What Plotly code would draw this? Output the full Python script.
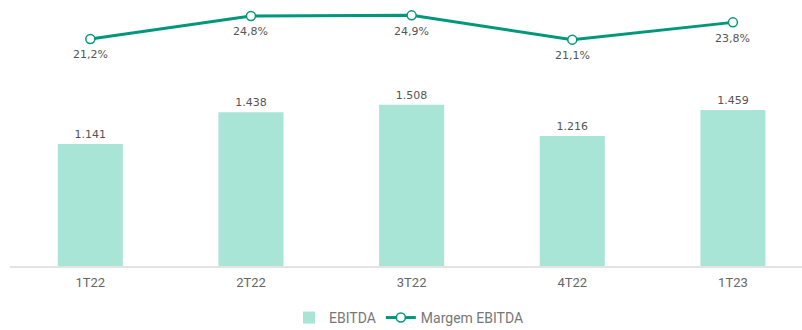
import plotly.graph_objects as go

# Quarterly EBITDA (R$ milhões) and EBITDA margin (%)
trimestres = ["1T22", "2T22", "3T22", "4T22", "1T23"]
ebitda = [1141, 1438, 1508, 1216, 1459]
margem_ebitda = [21.2, 24.8, 24.9, 21.1, 23.8]

BAR_COLOR = "#a8e5d7"
LINE_COLOR = "#00977a"
TEXT_COLOR = "#555555"
LABEL_FONT = dict(family="DejaVu Sans", size=11, color=TEXT_COLOR)

fig = go.Figure()

fig.add_trace(go.Bar(
    x=trimestres,
    y=ebitda,
    name="EBITDA",
    marker=dict(color=BAR_COLOR, line=dict(width=0)),
    width=0.405,
    texttemplate="%{y:,.0f}",
    textposition="outside",
    textfont=LABEL_FONT,
    cliponaxis=False,
    yaxis="y",
))

fig.add_trace(go.Scatter(
    x=trimestres,
    y=margem_ebitda,
    name="Margem EBITDA",
    mode="lines+markers",
    line=dict(color=LINE_COLOR, width=3),
    marker=dict(size=9, color="white", line=dict(color=LINE_COLOR, width=1.5)),
    cliponaxis=False,
    yaxis="y2",
))

# Margin labels placed just under each marker
for t, m in zip(trimestres, margem_ebitda):
    fig.add_annotation(
        x=t, y=m, xref="x", yref="y2",
        text=f"{m:.1f}%".replace(".", ","),
        showarrow=False,
        yshift=-16,
        font=LABEL_FONT,
    )

fig.update_layout(
    width=802,
    height=330,
    margin=dict(l=10, r=0, t=0, b=64),
    paper_bgcolor="white",
    plot_bgcolor="white",
    separators=",.",
    xaxis=dict(
        type="category",
        range=[-0.5, 4.43],
        showgrid=False,
        showline=True,
        linecolor="#e3e3e3",
        linewidth=2,
        ticks="outside",
        ticklen=3,
        tickcolor="rgba(0,0,0,0)",
        tickfont=dict(family="Liberation Sans Narrow, Roboto", size=13, color="#666666"),
        fixedrange=True,
    ),
    yaxis=dict(
        range=[0, 2486],
        visible=False,
        showgrid=False,
        zeroline=False,
    ),
    yaxis2=dict(
        range=[-14.32, 27.3],
        overlaying="y",
        visible=False,
        showgrid=False,
        zeroline=False,
    ),
    legend=dict(
        orientation="h",
        x=0.51,
        xanchor="center",
        xref="container",
        y=0.085,
        yanchor="top",
        yref="container",
        font=dict(family="Liberation Sans Narrow, Roboto", size=14, color="#777777"),
        traceorder="normal",
    ),
    showlegend=True,
)

fig.write_html("out.html")
